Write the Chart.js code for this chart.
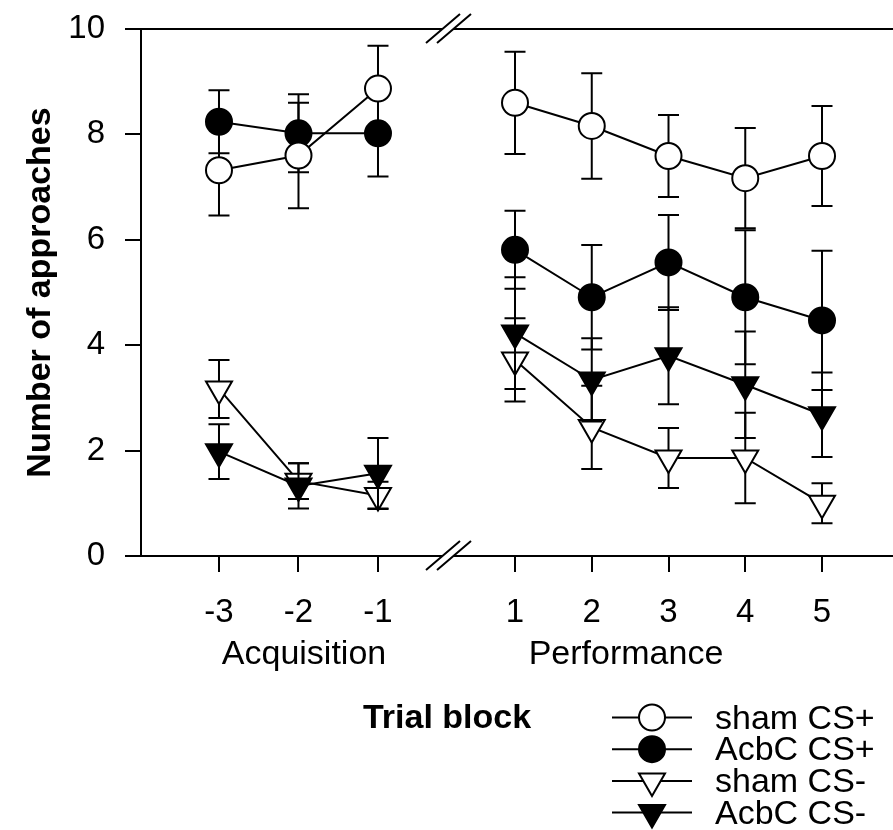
<!DOCTYPE html>
<html>
<head>
<meta charset="utf-8">
<title>Number of approaches by trial block</title>
<script src="https://cdn.jsdelivr.net/npm/chart.js@4.4.1/dist/chart.umd.min.js"></script>
<style>
  html, body { margin: 0; padding: 0; background: #fff; }
  #wrap { width: 893px; height: 830px; }
</style>
</head>
<body>
<div id="wrap"><canvas id="approachChart" width="893" height="830"></canvas></div>
<script>
// Trial blocks on the two parts of the broken x axis
const acqBlocks = [-3, -2, -1];
const perfBlocks = [1, 2, 3, 4, 5];
const yTicks = [0, 2, 4, 6, 8, 10];

// Mean number of approaches and SEM
const shamPlusAcq = [7.32, 7.60, 8.87];
const shamPlusAcqErr = [0.86, 1.00, 0.81];
const shamPlusPerf = [8.60, 8.16, 7.59, 7.17, 7.59];
const shamPlusPerfErr = [0.97, 1.00, 0.78, 0.95, 0.95];

const acbcPlusAcq = [8.24, 8.02, 8.02];
const acbcPlusAcqErr = [0.60, 0.74, 0.82];
const acbcPlusPerf = [5.81, 4.91, 5.57, 4.91, 4.47];
const acbcPlusPerfErr = [0.74, 0.99, 0.90, 1.27, 1.32];

const shamMinusAcq = [3.17, 1.42, 1.15];
const shamMinusAcqErr = [0.55, 0.34, 0.26];
const shamMinusPerf = [3.72, 2.44, 1.86, 1.86, 1.00];
const shamMinusPerfErr = [0.79, 0.79, 0.57, 0.86, 0.38];

const acbcMinusAcq = [1.98, 1.33, 1.57];
const acbcMinusAcqErr = [0.52, 0.43, 0.67];
const acbcMinusPerf = [4.23, 3.34, 3.80, 3.25, 2.68];
const acbcMinusPerfErr = [1.06, 0.79, 0.92, 1.01, 0.80];

const groupLabels = ['Acquisition', 'Performance'];
const xTitle = 'Trial block';
const yTitle = 'Number of approaches';

const FONT = 'Liberation Sans, Arial, Helvetica, sans-serif';

// one entry per group, style only
const series = [
  { label: 'sham CS+', acq: shamPlusAcq, acqErr: shamPlusAcqErr, perf: shamPlusPerf, perfErr: shamPlusPerfErr,
    pointStyle: 'circle', radius: 13, rotation: 0, fill: '#ffffff', order: 0 },
  { label: 'AcbC CS+', acq: acbcPlusAcq, acqErr: acbcPlusAcqErr, perf: acbcPlusPerf, perfErr: acbcPlusPerfErr,
    pointStyle: 'circle', radius: 13, rotation: 0, fill: '#000000', order: 1 },
  { label: 'sham CS-', acq: shamMinusAcq, acqErr: shamMinusAcqErr, perf: shamMinusPerf, perfErr: shamMinusPerfErr,
    pointStyle: 'triangle', radius: 15, rotation: 180, fill: '#ffffff', order: 3 },
  { label: 'AcbC CS-', acq: acbcMinusAcq, acqErr: acbcMinusAcqErr, perf: acbcMinusPerf, perfErr: acbcMinusPerfErr,
    pointStyle: 'triangle', radius: 15, rotation: 180, fill: '#000000', order: 2 }
];

function makeDataset(s, blocks, means, errs, axisId) {
  return {
    label: s.label,
    xAxisID: axisId,
    yAxisID: 'y',
    data: blocks.map((b, i) => ({ x: b, y: means[i] })),
    errors: errs,
    borderColor: '#000',
    borderWidth: 2,
    pointStyle: s.pointStyle,
    pointRadius: s.radius,
    pointRotation: s.rotation,
    pointBackgroundColor: s.fill,
    pointBorderColor: '#000',
    pointBorderWidth: 2,
    tension: 0,
    fill: false,
    clip: false,
    order: s.order
  };
}

const datasets = [];
series.forEach(s => {
  datasets.push(makeDataset(s, acqBlocks, s.acq, s.acqErr, 'xA'));
  datasets.push(makeDataset(s, perfBlocks, s.perf, s.perfErr, 'xP'));
});

// error bars are drawn just before each dataset, so its own markers cover them
const errorBars = {
  id: 'errorBars',
  beforeDatasetDraw(chart, args) {
    const ds = chart.data.datasets[args.index];
    const yScale = chart.scales.y;
    const ctx = chart.ctx;
    ctx.save();
    ctx.strokeStyle = '#000';
    ctx.lineWidth = 2;
    args.meta.data.forEach((pt, i) => {
      const m = ds.data[i].y, e = ds.errors[i];
      const yHi = yScale.getPixelForValue(m + e);
      const yLo = yScale.getPixelForValue(m - e);
      ctx.beginPath();
      ctx.moveTo(pt.x, yHi); ctx.lineTo(pt.x, yLo);
      ctx.moveTo(pt.x - 10.5, yHi); ctx.lineTo(pt.x + 10.5, yHi);
      ctx.moveTo(pt.x - 10.5, yLo); ctx.lineTo(pt.x + 10.5, yLo);
      ctx.stroke();
    });
    ctx.restore();
  }
};

// frame with axis breaks, group labels, axis title and the legend
const frameAndLegend = {
  id: 'frameAndLegend',
  afterDraw(chart) {
    const { ctx, chartArea: a } = chart;
    ctx.save();
    ctx.strokeStyle = '#000';
    ctx.lineWidth = 2;
    [a.top, a.bottom].forEach(yy => {
      ctx.beginPath();
      ctx.moveTo(a.left - 1, yy); ctx.lineTo(442, yy);
      ctx.moveTo(453, yy); ctx.lineTo(a.right, yy);
      ctx.moveTo(426, yy + 14); ctx.lineTo(460, yy - 15);
      ctx.moveTo(437, yy + 14); ctx.lineTo(471, yy - 15);
      ctx.stroke();
    });

    ctx.fillStyle = '#000';
    ctx.textAlign = 'center';
    ctx.textBaseline = 'alphabetic';
    ctx.font = '34px ' + FONT;
    ctx.fillText(groupLabels[0], 304, 664);
    ctx.fillText(groupLabels[1], 626, 664);

    ctx.font = 'bold 34px ' + FONT;
    ctx.fillText(xTitle, 447, 728);

    // legend
    series.forEach((s, i) => {
      const ly = 717.5 + i * 31.7;
      ctx.beginPath();
      ctx.moveTo(612, ly); ctx.lineTo(692, ly);
      ctx.stroke();
      ctx.fillStyle = s.fill;
      Chart.helpers.drawPoint(ctx, { pointStyle: s.pointStyle, radius: s.radius, rotation: s.rotation, borderWidth: 2 }, 652, ly);
      ctx.fillStyle = '#000';
      ctx.textAlign = 'left';
      ctx.font = '34px ' + FONT;
      ctx.fillText(s.label, 715, ly + 11);
    });
    ctx.restore();
  }
};

function xAxis(blocks, min, max) {
  return {
    type: 'linear',
    position: { y: 0 },
    min: min,
    max: max,
    afterBuildTicks: scale => { scale.ticks = blocks.map(v => ({ value: v })); },
    ticks: {
      color: '#000',
      font: { family: FONT, size: 33 },
      padding: 21,
      maxRotation: 0,
      autoSkip: false,
      callback: v => String(v)
    },
    grid: { drawOnChartArea: false, drawTicks: true, tickLength: 16, lineWidth: 2, color: '#000' },
    border: { display: false }
  };
}

const ctx = document.getElementById('approachChart').getContext('2d');
const approachChart = new Chart(ctx, {
  type: 'line',
  data: { datasets: datasets },
  options: {
    responsive: false,
    animation: false,
    events: [],
    layout: { autoPadding: false, padding: { top: 29, bottom: 274, left: 0, right: 0 } },
    plugins: { legend: { display: false }, tooltip: { enabled: false } },
    scales: {
      y: {
        min: 0,
        max: 10,
        afterBuildTicks: scale => { scale.ticks = yTicks.map(v => ({ value: v })); },
        afterFit: scale => { scale.width = 141; },
        // small lineHeight keeps the top label from pushing the plot down
        ticks: { color: '#000', font: { family: FONT, size: 33, lineHeight: 0.5 }, padding: 20 },
        grid: { drawOnChartArea: false, drawTicks: true, tickLength: 16, lineWidth: 2, color: '#000' },
        border: { display: true, color: '#000', width: 2 },
        title: {
          display: true,
          text: yTitle,
          color: '#000',
          font: { family: FONT, size: 34, weight: 'bold' },
          padding: { top: 20, bottom: 0 }
        }
      },
      // acquisition part: -3 at x=219, -1 at x=378
      xA: xAxis(acqBlocks, -3.981, 5.478),
      // performance part: 1 at x=515, 5 at x=822
      xP: xAxis(perfBlocks, -3.873, 5.925)
    }
  },
  plugins: [errorBars, frameAndLegend]
});
</script>
</body>
</html>
